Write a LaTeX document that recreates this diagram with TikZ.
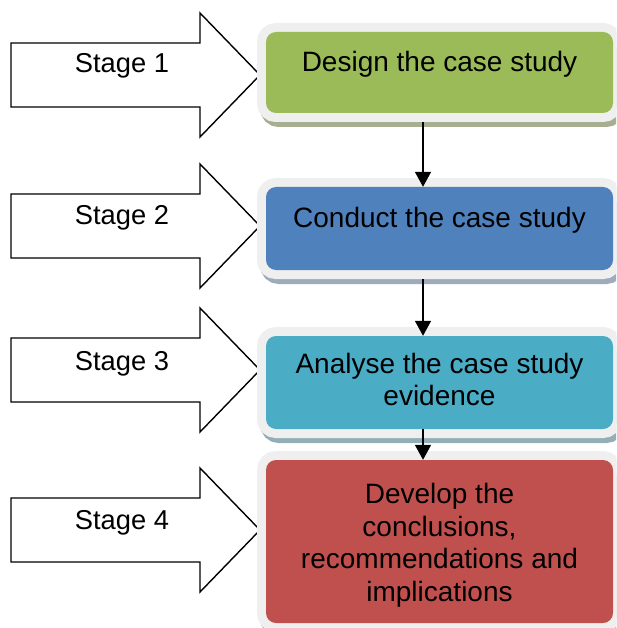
\documentclass[tikz,border=0pt]{standalone}
\usepackage{fontspec}
\setmainfont{Liberation Sans}
\usetikzlibrary{arrows.meta}

\definecolor{cgreen}{HTML}{9BBB59}
\definecolor{cgreensh}{HTML}{A7AF90}
\definecolor{cblue}{HTML}{4F81BD}
\definecolor{cbluesh}{HTML}{9DABBD}
\definecolor{cteal}{HTML}{4BACC6}
\definecolor{ctealsh}{HTML}{93AEB7}
\definecolor{cred}{HTML}{C0504D}
\definecolor{credsh}{HTML}{BC9C9C}
\definecolor{rim}{HTML}{EFEFEF}

\tikzset{
  boxtext/.style={font=\fontsize{28}{32.5}\selectfont},
  stagearrow/.style={draw=black, line width=1.4pt, fill=white, line join=miter},
  stagelabel/.style={font=\fontsize{27.3}{32}\selectfont, anchor=base, inner sep=0pt},
  card/.style 2 args={rectangle, rounded corners=10pt, fill=#1,
    minimum width=347pt, minimum height=#2, inner sep=0pt,
    boxtext, align=center,
    preaction={draw=#1sh, fill=#1sh, line width=18pt,
      transform canvas={xshift=3pt, yshift=-5pt}},
    preaction={draw=rim, fill=rim, line width=18pt}},
  conn/.style={line width=1.7pt, -{Triangle[width=16pt, length=15pt]}},
}

\begin{document}
\begin{tikzpicture}[x=1pt, y=-1pt]
\useasboundingbox (0,0) rectangle (616,628);
\clip (0,0) rectangle (616,628);

% stage block arrows
\foreach \c in {75,226,370,530} {
  \draw[stagearrow] (11,\c-32) -- (200,\c-32) -- (200,\c-62) -- (260,\c)
    -- (200,\c+62) -- (200,\c+32) -- (11,\c+32) -- cycle;
}
\node[stagelabel] (s1) at (122,73)  {Stage 1};
\node[stagelabel] (s2) at (122,225) {Stage 2};
\node[stagelabel] (s3) at (122,370) {Stage 3};
\node[stagelabel] (s4) at (122,529) {Stage 4};

% process boxes (struts nudge the text block inside the taller boxes)
\node[card={cgreen}{81pt}, text depth=22pt] (b1) at (439.5,72.5)
  {Design the case study};
\node[card={cblue}{83pt}, text depth=22pt] (b2) at (439.5,228.5)
  {Conduct the case study};
\node[card={cteal}{93pt}] (b3) at (439.5,382.5)
  {Analyse the case study\\evidence\rule[-6pt]{0pt}{6pt}};
\node[card={cred}{163pt}] (b4) at (439.5,541.5)
  {\rule{0pt}{28pt}Develop the\\conclusions,\\recommendations and\\implications};

% flow between the boxes
\draw[conn, shorten <=9pt] ([xshift=-16.5pt]b1.south) -- ([xshift=-16.5pt]b2.north);
\draw[conn, shorten <=9pt] ([xshift=-16.5pt]b2.south) -- ([xshift=-16.5pt]b3.north);
\draw[conn] ([xshift=-16.5pt]b3.south) -- ([xshift=-16.5pt]b4.north);
\end{tikzpicture}
\end{document}
